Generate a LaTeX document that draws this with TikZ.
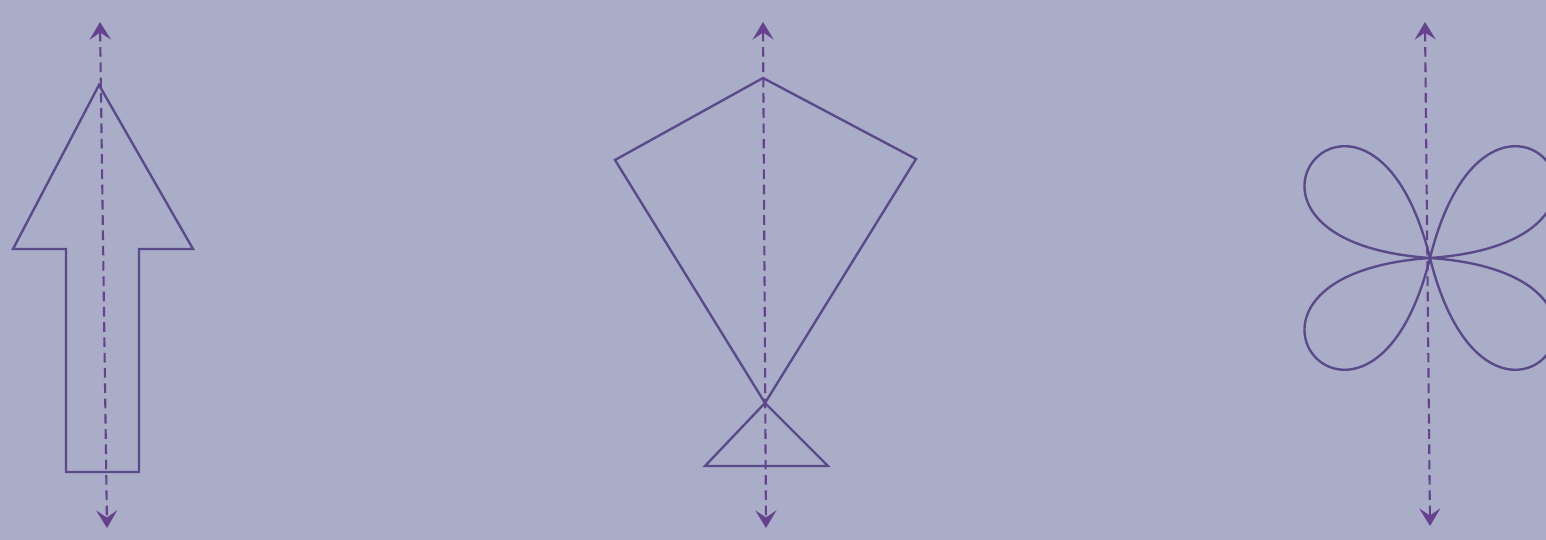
\documentclass[tikz,border=0pt]{standalone}
\usepackage{xcolor}
\usepackage{tikz}
\usetikzlibrary{arrows.meta,positioning}
\definecolor{PaperBG}  {HTML}{AAADC8}
\definecolor{FigLine}  {HTML}{5A4A8A}
\definecolor{AxisLine} {HTML}{66428E}

\tikzset{
  figline/.style={draw=FigLine,line width=1.35pt,line join=miter},
  symaxis/.style={draw=AxisLine,line width=1.2pt,dash pattern=on 5.5pt off 3.2pt,
                  {Stealth[length=10pt,width=12pt,inset=4pt]}-{Stealth[length=10pt,width=12pt,inset=4pt]}},
}

\begin{document}
\begin{tikzpicture}[x=0.02cm,y=0.02cm]
  \fill[PaperBG] (0,0) rectangle (1546,540);
  \clip (0,0) rectangle (1546,540);

  % arrow
  \coordinate (arrowTop) at (100,518);
  \coordinate (arrowBot) at (107,12);
  \draw[figline] (99,455) -- (193,291) -- (139,291) -- (139,68)
                 -- (66,68) -- (66,291) -- (13,291) -- cycle;
  \draw[symaxis] (arrowTop) -- (arrowBot);

  % kite
  \coordinate (kiteTop) at (763,518);
  \coordinate (kiteBot) at (766,12);
  \draw[figline] (763,462) -- (916,381) -- (765,137) -- (615,380) -- cycle;
  \draw[figline] (765,137) -- (828,74) -- (705,74) -- cycle;
  \draw[symaxis] (kiteTop) -- (kiteBot);

  % flower
  \coordinate (flowerC) at (1430,282);
  \coordinate (flowerTop) at (1425,518);
  \coordinate (flowerBot) at (1430,14);
  \foreach \a/\b in {104/176, 76/4, 256/184, 284/356}
    \draw[figline] (flowerC) .. controls +(\a:250) and +(\b:250) .. (flowerC);
  \draw[symaxis] (flowerTop) -- (flowerBot);
\end{tikzpicture}
\end{document}
